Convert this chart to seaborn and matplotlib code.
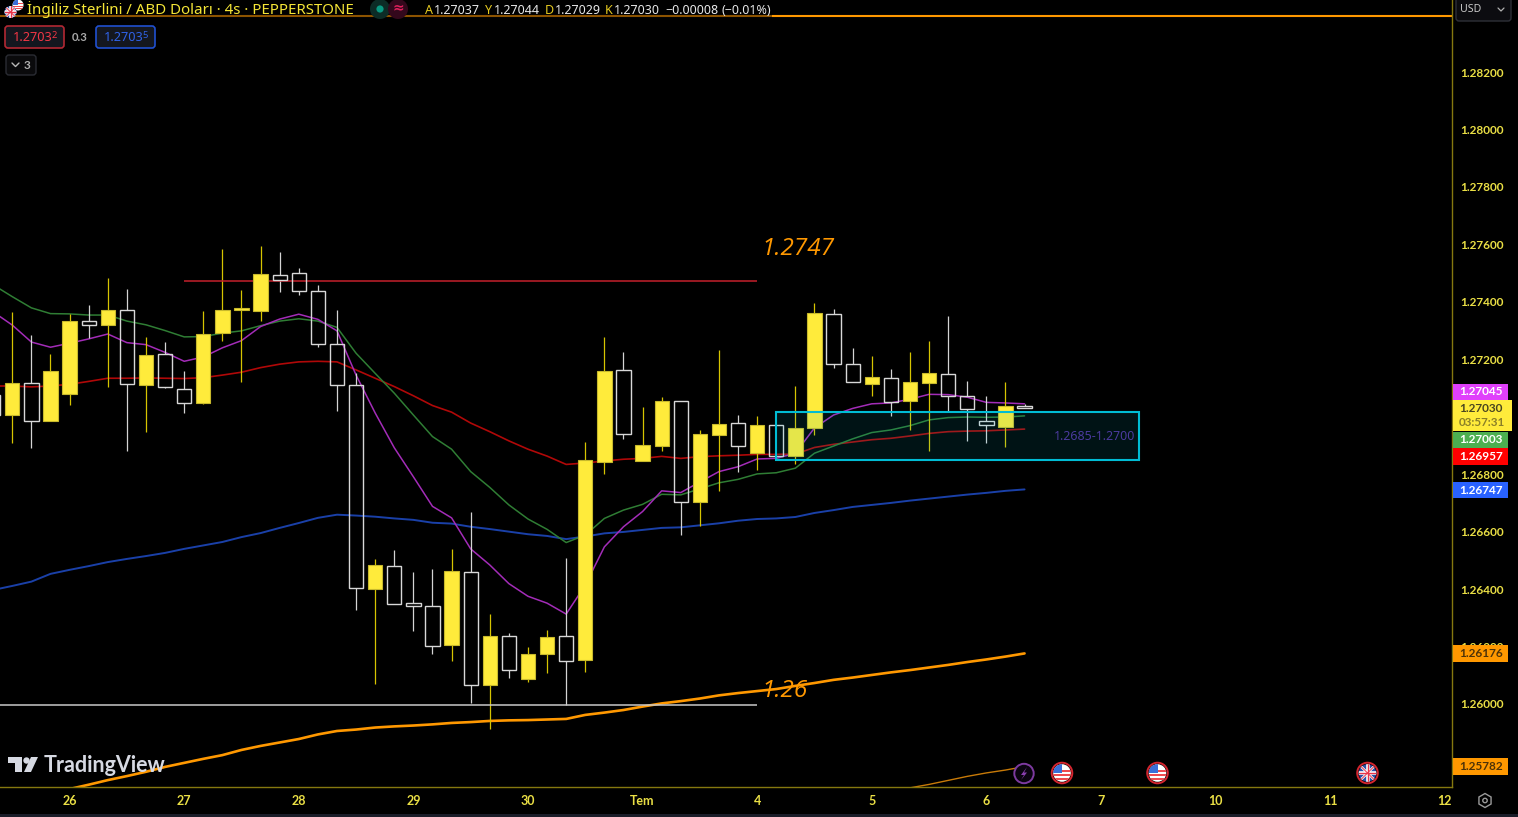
import numpy as np
import pandas as pd
import seaborn as sns
import matplotlib.pyplot as plt
from matplotlib.patches import Rectangle, Circle, Polygon, RegularPolygon, FancyBboxPatch

bars = list(range(-1, 54))
opens = [1.27076, 1.27007, 1.27119, 1.26984, 1.27080, 1.27334, 1.27319, 1.27373, 1.27112, 1.27220, 1.27098,
         1.27049, 1.27292, 1.27371, 1.27368, 1.27494, 1.27502, 1.27439, 1.27254, 1.27110, 1.26400, 1.26481,
         1.26351, 1.26342, 1.26204, 1.26461, 1.26065, 1.26236, 1.26086, 1.26173, 1.26236, 1.26152, 1.26844,
         1.27162, 1.26845, 1.26899, 1.27054, 1.26702, 1.26938, 1.26977, 1.26873, 1.26970, 1.26862, 1.26960,
         1.27359, 1.27185, 1.27114, 1.27136, 1.27056, 1.27118, 1.27150, 1.27073, 1.26984, 1.26965, 1.27037]
highs = [1.27128, 1.27366, 1.27286, 1.27217, 1.27358, 1.27389, 1.27484, 1.27446, 1.27277, 1.27259, 1.27158,
         1.27369, 1.27584, 1.27441, 1.27594, 1.27574, 1.27518, 1.27460, 1.27373, 1.27151, 1.26504, 1.26535,
         1.26458, 1.26469, 1.26539, 1.26670, 1.26312, 1.26246, 1.26197, 1.26257, 1.26509, 1.26912, 1.27277,
         1.27224, 1.27034, 1.27069, 1.27054, 1.26954, 1.27231, 1.27005, 1.27003, 1.26971, 1.27107, 1.27395,
         1.27374, 1.27238, 1.27210, 1.27165, 1.27224, 1.27263, 1.27352, 1.27123, 1.27071, 1.27120, 1.27044]
lows = [1.26971, 1.26908, 1.26890, 1.26984, 1.27041, 1.27273, 1.27105, 1.26882, 1.26948, 1.27101, 1.27014,
        1.27045, 1.27264, 1.27122, 1.27333, 1.27433, 1.27424, 1.27243, 1.27021, 1.26327, 1.26069, 1.26349,
        1.26255, 1.26174, 1.26151, 1.26005, 1.25913, 1.26089, 1.26078, 1.26109, 1.25997, 1.26112, 1.26800,
        1.26922, 1.26845, 1.26882, 1.26587, 1.26620, 1.26741, 1.26809, 1.26816, 1.26862, 1.26835, 1.26938,
        1.27171, 1.27122, 1.27072, 1.27003, 1.26955, 1.26882, 1.27018, 1.26917, 1.26910, 1.26896, 1.27029]
closes = [1.27006, 1.27119, 1.26984, 1.27158, 1.27334, 1.27319, 1.27373, 1.27115, 1.27216, 1.27105, 1.27049,
          1.27289, 1.27373, 1.27378, 1.27498, 1.27477, 1.27438, 1.27254, 1.27112, 1.26403, 1.26483, 1.26349,
          1.26342, 1.26201, 1.26462, 1.26066, 1.26236, 1.26117, 1.26174, 1.26233, 1.26149, 1.26849, 1.27158,
          1.26939, 1.26902, 1.27054, 1.26703, 1.26940, 1.26974, 1.26897, 1.26970, 1.26862, 1.26960, 1.27362,
          1.27185, 1.27122, 1.27137, 1.27052, 1.27120, 1.27151, 1.27073, 1.27028, 1.26970, 1.27036, 1.27030]

ma_magenta = [1.27365, 1.27319, 1.27260, 1.27242, 1.27256, 1.27271, 1.27288, 1.27258, 1.27251, 1.27224, 1.27193,
              1.27208, 1.27240, 1.27265, 1.27314, 1.27340, 1.27357, 1.27339, 1.27299, 1.27145, 1.27013, 1.26892,
              1.26791, 1.26688, 1.26648, 1.26540, 1.26484, 1.26419, 1.26375, 1.26351, 1.26313, 1.26414, 1.26547,
              1.26617, 1.26670, 1.26742, 1.26736, 1.26773, 1.26809, 1.26826, 1.26853, 1.26855, 1.26873, 1.26961,
              1.27006, 1.27029, 1.27045, 1.27048, 1.27061, 1.27078, 1.27077, 1.27068, 1.27050, 1.27048, 1.27045]
ma_green = [1.27459, 1.27418, 1.27379, 1.27359, 1.27358, 1.27354, 1.27354, 1.27333, 1.27320, 1.27300, 1.27278,
            1.27279, 1.27291, 1.27299, 1.27317, 1.27333, 1.27341, 1.27333, 1.27311, 1.27221, 1.27151, 1.27082,
            1.27006, 1.26931, 1.26887, 1.26809, 1.26754, 1.26693, 1.26644, 1.26608, 1.26562, 1.26588, 1.26646,
            1.26675, 1.26695, 1.26730, 1.26728, 1.26749, 1.26770, 1.26782, 1.26801, 1.26805, 1.26821, 1.26873,
            1.26898, 1.26923, 1.26945, 1.26954, 1.26969, 1.26989, 1.26997, 1.26999, 1.26998, 1.26999, 1.27003]
ma_red = [1.27107, 1.27107, 1.27104, 1.27107, 1.27113, 1.27123, 1.27134, 1.27134, 1.27135, 1.27134, 1.27133,
          1.27136, 1.27145, 1.27155, 1.27171, 1.27183, 1.27191, 1.27193, 1.27191, 1.27163, 1.27134, 1.27105,
          1.27073, 1.27039, 1.27016, 1.26978, 1.26948, 1.26916, 1.26887, 1.26863, 1.26834, 1.26839, 1.26846,
          1.26852, 1.26855, 1.26862, 1.26855, 1.26861, 1.26864, 1.26866, 1.26869, 1.26869, 1.26870, 1.26893,
          1.26904, 1.26912, 1.26920, 1.26925, 1.26933, 1.26942, 1.26948, 1.26950, 1.26951, 1.26954, 1.26957]
ma_blue = [1.26397, 1.26411, 1.26426, 1.26453, 1.26467, 1.26480, 1.26494, 1.26505, 1.26515, 1.26526, 1.26540,
           1.26552, 1.26564, 1.26581, 1.26595, 1.26613, 1.26630, 1.26648, 1.26659, 1.26656, 1.26652, 1.26646,
           1.26641, 1.26631, 1.26628, 1.26617, 1.26609, 1.26600, 1.26591, 1.26585, 1.26574, 1.26583, 1.26594,
           1.26599, 1.26606, 1.26613, 1.26615, 1.26622, 1.26629, 1.26638, 1.26644, 1.26646, 1.26651, 1.26665,
           1.26675, 1.26686, 1.26693, 1.26700, 1.26708, 1.26715, 1.26722, 1.26729, 1.26735, 1.26742, 1.26747]
orange_bars = list(range(3, 54))
ma_orange = [1.25704, 1.25719, 1.25735, 1.25749, 1.25764, 1.25781, 1.25795, 1.25809, 1.25822, 1.25840, 1.25854,
             1.25866, 1.25878, 1.25894, 1.25906, 1.25911, 1.25918, 1.25922, 1.25925, 1.25929, 1.25934, 1.25937,
             1.25941, 1.25943, 1.25944, 1.25946, 1.25948, 1.25962, 1.25970, 1.25979, 1.25991, 1.26002, 1.26010,
             1.26019, 1.26030, 1.26038, 1.26045, 1.26052, 1.26063, 1.26073, 1.26084, 1.26092, 1.26101, 1.26110,
             1.26118, 1.26127, 1.26136, 1.26146, 1.26155, 1.26165, 1.26176]
low_orange_bars = [47, 48, 49, 50, 51, 52, 53]
ma_low_orange = [1.25708, 1.25720, 1.25734, 1.25748, 1.25760, 1.25770, 1.25782]

day_ticks = [3, 9, 15, 21, 27, 33, 39, 45, 51, 57, 63, 69, 75]
day_labels = ['26', '27', '28', '29', '30', 'Tem', '4', '5', '6', '7', '10', '11', '12']
price_ticks = [1.258, 1.260, 1.262, 1.264, 1.266, 1.268, 1.272, 1.274, 1.276, 1.278, 1.280, 1.282]

resistance = 1.27474
support = 1.25995
top_level = 1.28395
zone_low, zone_high = 1.26848, 1.27017

YELLOW = '#ffeb3b'
AXIS_YELLOW = '#eadf45'
ORANGE = '#ff9800'
BOLD = 'Lato'

sns.set_theme(style='dark', rc={'figure.facecolor': 'black', 'axes.facecolor': 'black', 'savefig.facecolor': 'black'})
plt.rcParams['font.family'] = ['Noto Sans', 'DejaVu Sans']

fig = plt.figure(figsize=(15.18, 8.17), dpi=100)
ax = fig.add_axes([0, 30 / 817, 1452 / 1518, 787 / 817])
ax.set_xlim(-0.644, 75.38)
ax.set_ylim(1.25711, 1.284508)

# moving averages sit under the candles
for vals, col, lw in [(ma_blue, '#1a40a8', 1.4), (ma_red, '#b00808', 1.2), (ma_green, '#2f7d34', 1.1),
                      (ma_magenta, '#a32cb8', 1.1)]:
    sns.lineplot(x=bars, y=vals, color=col, linewidth=lw, ax=ax, legend=False, errorbar=None, zorder=2)
sns.lineplot(x=orange_bars, y=ma_orange, color=ORANGE, linewidth=1.9, ax=ax, legend=False, errorbar=None, zorder=2)
sns.lineplot(x=low_orange_bars, y=ma_low_orange, color='#c87a08', linewidth=1.0, ax=ax, legend=False, errorbar=None, zorder=2)

df = pd.DataFrame({'bar': bars, 'o': opens, 'h': highs, 'l': lows, 'c': closes})
df['top'] = df[['o', 'c']].max(axis=1)
df['bot'] = df[['o', 'c']].min(axis=1)
up = df[df.c >= df.o]
down = df[df.c < df.o]

ax.vlines(up.bar, up.l, up.h, color='#d6c400', linewidth=0.9, zorder=3)
ax.vlines(down.bar, down.top, down.h, color='#d4d4d4', linewidth=0.9, zorder=3)
ax.vlines(down.bar, down.l, down.bot, color='#d4d4d4', linewidth=0.9, zorder=3)
ax.bar(up.bar, up.top - up.bot, bottom=up.bot, width=0.75, color=YELLOW, edgecolor='#c8b92c', linewidth=0.8, zorder=4)
ax.bar(down.bar, down.top - down.bot, bottom=down.bot, width=0.75, facecolor='none', edgecolor='#d8d8d8', linewidth=1.0, zorder=4)

ax.hlines(resistance, 9, 39, color='#c4202c', linewidth=1.1, zorder=3)
ax.hlines(support, -1, 39, color='#c8c8c8', linewidth=1.1, zorder=5)
ax.hlines(top_level, -1, 76, color=ORANGE, linewidth=1.5, zorder=1)

ax.add_patch(Rectangle((40, zone_low), 19, zone_high - zone_low, facecolor='#00bcd4', alpha=0.1, edgecolor='none', zorder=6))
ax.add_patch(Rectangle((40, zone_low), 19, zone_high - zone_low, facecolor='none', edgecolor='#00bcd4', linewidth=1.5, zorder=6))
ax.text(58.8, (zone_low + zone_high) / 2, '1.2685-1.2700', color='#4b3a9e', fontsize=8.9, ha='right', va='center', zorder=7)

ax.text(39.2, 1.27584, '1.2747', color=ORANGE, fontsize=17.5, style='italic', family='Open Sans', va='center', zorder=7)
ax.text(39.2, 1.26045, '1.26', color=ORANGE, fontsize=17.5, style='italic', family='Open Sans', va='center', zorder=7)

ax.set_xticks(day_ticks)
ax.set_xticklabels(day_labels, color=AXIS_YELLOW, fontsize=9, fontweight='bold', family=BOLD)
ax.yaxis.tick_right()
ax.set_yticks(price_ticks)
ax.set_yticklabels(['%.5f' % p for p in price_ticks], color=AXIS_YELLOW, fontsize=8.5, fontweight='bold', family=BOLD)
ax.tick_params(axis='x', length=0, pad=6, bottom=True)
ax.tick_params(axis='y', length=0, pad=6, right=True, left=False)
ax.grid(False)
for name, sp in ax.spines.items():
    sp.set_visible(name in ('right', 'bottom'))
    sp.set_color('#85780f')
    sp.set_linewidth(1.0)

# everything around the plot (header, price tags, logos) on a pixel overlay
ov = fig.add_axes([0, 0, 1, 1], zorder=10)
ov.set_xlim(0, 1518)
ov.set_ylim(817, 0)
ov.axis('off')
ov.patch.set_alpha(0)


def label(x, y, s, color, size, weight='normal', ha='left', **kw):
    return ov.text(x, y, s, color=color, fontsize=size, fontweight=weight, ha=ha, va='center', **kw)


def flag(x, y, r, kind, ring=None):
    clip = Circle((x, y), r, transform=ov.transData)
    if kind == 'us':
        ov.add_patch(Circle((x, y), r, color='white', lw=0))
        for k in (-0.35, 0.1, 0.55):
            p = ov.add_patch(Rectangle((x - r, y + k * r), 2 * r, 0.24 * r, color='#ef4b50', lw=0))
            p.set_clip_path(clip)
        p = ov.add_patch(Rectangle((x - r, y - r), 1.05 * r, r, color='#3a6fd8', lw=0))
        p.set_clip_path(clip)
    else:
        ov.add_patch(Circle((x, y), r, color='#2a4fa8', lw=0))
        for lw, col in ((2.6, 'white'), (1.0, '#e8354a')):
            l1, = ov.plot([x - r, x + r], [y - r, y + r], color=col, lw=lw * 0.7)
            l2, = ov.plot([x - r, x + r], [y + r, y - r], color=col, lw=lw * 0.7)
            l3, = ov.plot([x, x], [y - r, y + r], color=col, lw=lw)
            l4, = ov.plot([x - r, x + r], [y, y], color=col, lw=lw)
            for l in (l1, l2, l3, l4):
                l.set_clip_path(clip)
    if ring:
        ov.add_patch(Circle((x, y), r + 1.5, facecolor='none', edgecolor=ring, lw=1.4))


# header
ov.add_patch(Rectangle((0, 13.5), 772, 5, color='black', alpha=0.45, lw=0))
flag(18, 5, 5.5, 'us')
flag(10.5, 12, 6, 'uk')
label(27, 10, 'İngiliz Sterlini / ABD Doları · 4s · PEPPERSTONE', '#f5e637', 10.85, 'medium')
ov.add_patch(Circle((380, 9), 10, color='#0c2c26', lw=0))
ov.add_patch(Circle((398, 9), 10, color='#33081c', lw=0))
ov.add_patch(Circle((380, 9), 3.6, color='#089981', lw=0))
label(398, 8, '≈', '#e0205c', 10, 'bold', ha='center')
for hx, s, c in [(425, 'A', '#e8cc20'), (434, '1.27037', '#e8e8e8'), (485, 'Y', '#e8cc20'), (494, '1.27044', '#e8e8e8'),
                 (545, 'D', '#e8cc20'), (555, '1.27029', '#e8e8e8'), (605, 'K', '#e8cc20'), (614, '1.27030', '#e8e8e8'),
                 (665, '−0.00008', '#e8e8e8'), (721, '(−0.01%)', '#e8e8e8')]:
    label(hx, 10.5, s, c, 9, 'medium')

# bid/ask boxes
ov.add_patch(FancyBboxPatch((5, 26), 59, 22, boxstyle='round,pad=0,rounding_size=3', facecolor='#14171f', edgecolor='#b22833', lw=1.2))
label(13, 37.5, '1.2703', '#f23645', 9.2, 'medium')
label(51.5, 35, '2', '#f23645', 6.8)
label(72, 37, '0.3', '#a8a8a8', 8.2, 'bold', family=BOLD)
ov.add_patch(FancyBboxPatch((96, 26), 59, 22, boxstyle='round,pad=0,rounding_size=3', facecolor='#14171f', edgecolor='#2050d0', lw=1.2))
label(104, 37.5, '1.2703', '#2f62e8', 9.2, 'medium')
label(142.5, 35, '5', '#2f62e8', 6.8)
ov.add_patch(FancyBboxPatch((6, 55), 30, 20, boxstyle='round,pad=0,rounding_size=3', facecolor='#0a0a0c', edgecolor='#2a2c33', lw=1))
ov.plot([12, 15.5, 19], [63, 66.5, 63], color='#b8b8b8', lw=1)
label(24, 65, '3', '#b0b0b0', 8.5, 'bold', family=BOLD)

# USD box
ov.add_patch(FancyBboxPatch((1456, -6), 55, 27, boxstyle='round,pad=0,rounding_size=3', facecolor='#0c0c10', edgecolor='#2e3038', lw=1))
label(1460, 9, 'USD', '#c8c8c8', 7.6)
ov.plot([1498, 1501, 1504], [8, 11, 8], color='#b0b0b0', lw=0.9)

# price tags
for y0, y1, bg, txt, tc in [(383.5, 399.5, '#e040fb', '1.27045', 'white'), (431.5, 447.5, '#4caf50', '1.27003', 'white'),
                            (448, 464.5, '#ff0000', '1.26957', 'white'), (481.7, 498.3, '#2962ff', '1.26747', 'white'),
                            (645, 661.7, ORANGE, '1.26176', '#4d3208'), (758.3, 775, ORANGE, '1.25782', '#4d3208')]:
    ov.add_patch(Rectangle((1452.5, y0), 55.5, y1 - y0, color=bg, lw=0))
    label(1481, (y0 + y1) / 2, txt, tc, 8.5, 'bold', ha='center', family=BOLD)
ov.add_patch(Rectangle((1452.5, 400), 59.5, 31, color=YELLOW, lw=0))
label(1481, 408.5, '1.27030', '#4a4520', 8.5, 'bold', ha='center', family=BOLD)
label(1482, 422.5, '03:57:31', '#8a7f28', 8.4, 'bold', ha='center', family=BOLD)

# event markers
ov.add_patch(Circle((1024, 773.5), 9.7, facecolor='#0a0410', edgecolor='#7d3aa0', lw=1.4))
ov.add_patch(Polygon([[1027, 767], [1021, 775], [1024, 775], [1021, 780], [1027, 772.5], [1024, 772.5]], color='#8a3fb0', lw=0))
flag(1062, 773, 8.8, 'us', ring='#d4252f')
flag(1157.5, 773, 8.8, 'us', ring='#d4252f')
flag(1367.5, 773, 8.8, 'uk', ring='#d4252f')

# TradingView logo
LOGO = '#d6d9e2'
ov.add_patch(Polygon([[8, 757], [22, 757], [22, 772], [15, 772], [15, 763], [8, 763]], color=LOGO, lw=0))
ov.add_patch(Circle((26.5, 760.5), 3.2, color=LOGO, lw=0))
ov.add_patch(Polygon([[31, 757], [38, 757], [31, 772], [24, 772]], color=LOGO, lw=0))
label(44, 766, 'TradingView', LOGO, 15.5, 'bold', family=BOLD)

# gear and bottom strip
ov.add_patch(RegularPolygon((1485, 800.5), 6, radius=7, facecolor='none', edgecolor='#9a9a9a', lw=1))
ov.add_patch(Circle((1485, 800.5), 2.2, facecolor='none', edgecolor='#9a9a9a', lw=1))
ov.add_patch(Rectangle((0, 813.5), 1518, 4, color='#1a1c28', lw=0))

fig.savefig('out.png', dpi=100)
